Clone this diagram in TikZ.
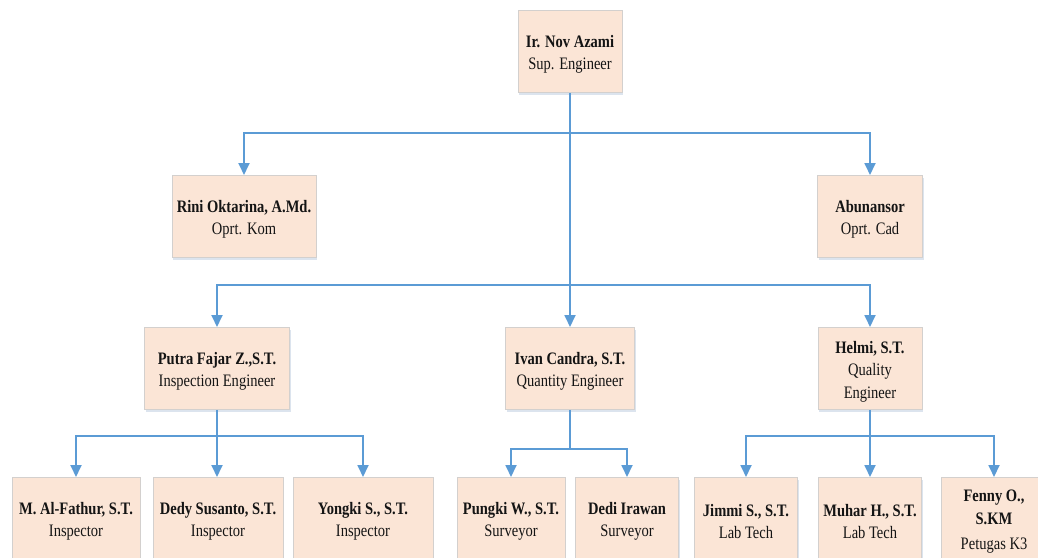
\documentclass[tikz,border=0pt]{standalone}
\usepackage{fontspec}
\setmainfont[FakeStretch=0.83]{Liberation Serif}
\usetikzlibrary{arrows.meta,shadows}
\definecolor{boxfill}{HTML}{FBE5D6}
\definecolor{boxborder}{HTML}{D3D0CE}
\definecolor{linkblue}{HTML}{5B9BD5}
\definecolor{shadowcol}{HTML}{9DB3CF}
\newcommand{\pname}[1]{\rule{0pt}{18pt}\textbf{#1}}
\tikzset{
  orgbox/.style={draw=boxborder, fill=boxfill, line width=0.9pt, minimum height=82pt,
    inner sep=0pt, align=center, anchor=north, text=black!92,
    font=\fontsize{17.5}{22.5}\selectfont,
    drop shadow={shadow xshift=1pt, shadow yshift=-3pt, fill=shadowcol, opacity=0.35}},
  link/.style={draw=linkblue, line width=1.8pt},
  arrowlink/.style={link, -{Triangle[width=11pt,length=12pt]}}
}
\begin{document}
\begin{tikzpicture}[x=1pt,y=-1pt]
\useasboundingbox[fill=white] (0,0) rectangle (1038,557);
% level 0
\node[orgbox, minimum width=104pt] (top) at (570,10) {\pname{Ir. Nov Azami}\\Sup. Engineer};
% level 1
\node[orgbox, minimum width=144pt] (rini) at (244,175) {\pname{Rini Oktarina, A.Md.}\\Oprt. Kom};
\node[orgbox, minimum width=105pt] (abun) at (870,175) {\pname{Abunansor}\\Oprt. Cad};
% level 2
\node[orgbox, minimum width=145pt] (putra) at (217,327) {\pname{Putra Fajar Z.,S.T.}\\Inspection Engineer};
\node[orgbox, minimum width=129pt] (ivan) at (570,327) {\pname{Ivan Candra, S.T.}\\Quantity Engineer};
\node[orgbox, minimum width=104pt] (helmi) at (870,327) {\pname{Helmi, S.T.}\\Quality\\Engineer};
% level 3
\node[orgbox, minimum width=128pt] (alf) at (76,477) {\pname{M. Al-Fathur, S.T.}\\Inspector};
\node[orgbox, minimum width=130pt] (dedy) at (218,477) {\pname{Dedy Susanto, S.T.}\\Inspector};
\node[orgbox, minimum width=140pt] (yongki) at (363,477) {\pname{Yongki S., S.T.}\\Inspector};
\node[orgbox, minimum width=108pt] (pungki) at (511,477) {\pname{Pungki W., S.T.}\\Surveyor};
\node[orgbox, minimum width=103pt] (dedi) at (627,477) {\pname{Dedi Irawan}\\Surveyor};
\node[orgbox, minimum width=103pt] (jimmi) at (746,477) {\pname{Jimmi S., S.T.}\\Lab Tech};
\node[orgbox, minimum width=103pt] (muhar) at (870,477) {\pname{Muhar H., S.T.}\\Lab Tech};
\node[orgbox, minimum width=106pt] (fenny) at (994,477) {\pname{Fenny O.,}\\\textbf{S.KM}\\[3pt]Petugas K3};
% junctions
\coordinate (j1) at (570,133);
\coordinate (j2) at (570,285);
\coordinate (j3) at (217,436);
\coordinate (j4) at (570,449);
\coordinate (j5) at (870,436);
% connectors
\draw[link] (top.south) -- (j1);
\draw[arrowlink] (j1) -| (rini.north);
\draw[arrowlink] (j1) -| (abun.north);
\draw[arrowlink] (j1) -- (ivan.north);
\draw[arrowlink] (j2) -| (putra.north);
\draw[arrowlink] (j2) -| (helmi.north);
\draw[link] (putra.south) -- (j3);
\draw[arrowlink] (j3) -| (alf.north);
\draw[arrowlink] (j3) -- (dedy.north -| j3);
\draw[arrowlink] (j3) -| (yongki.north);
\draw[link] (ivan.south) -- (j4);
\draw[arrowlink] (j4) -| (pungki.north);
\draw[arrowlink] (j4) -| (dedi.north);
\draw[link] (helmi.south) -- (j5);
\draw[arrowlink] (j5) -| (jimmi.north);
\draw[arrowlink] (j5) -- (muhar.north);
\draw[arrowlink] (j5) -| (fenny.north);
\end{tikzpicture}
\end{document}
